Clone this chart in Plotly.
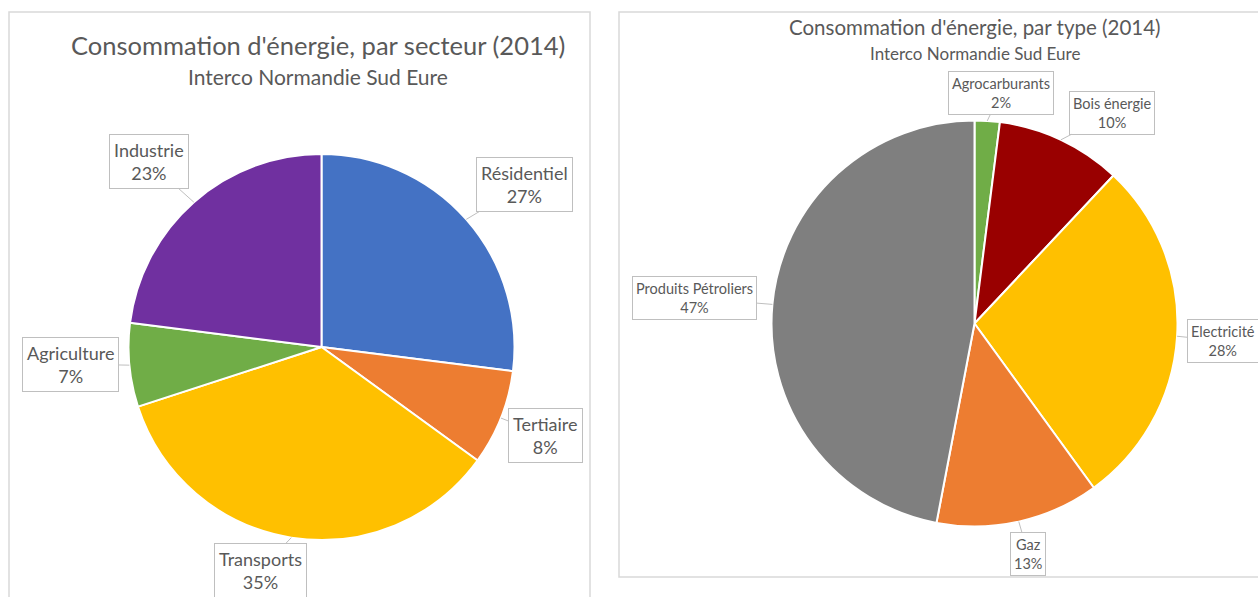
import math
import plotly.graph_objects as go

W, H = 1258, 597

# ---------------- data ----------------
sect_labels = ["Résidentiel", "Tertiaire", "Transports", "Agriculture", "Industrie"]
sect_values = [27, 8, 35, 7, 23]
sect_colors = ["#4472C4", "#ED7D31", "#FFC000", "#70AD47", "#7030A0"]

type_labels = ["Agrocarburants", "Bois énergie", "Electricité", "Gaz", "Produits Pétroliers"]
type_values = [2, 10, 28, 13, 47]
type_colors = ["#70AD47", "#990000", "#FFC000", "#ED7D31", "#7F7F7F"]

title_left = "Consommation d'énergie, par secteur (2014)"
title_right = "Consommation d'énergie, par type (2014)"
subtitle = "Interco Normandie Sud Eure"

# ---------------- layout / style ----------------
FONT = "Lato, 'Open Sans', sans-serif"
TXT = "#595959"

charts = [
    dict(labels=sect_labels, values=sect_values, colors=sect_colors,
         cx=321.5, cy=347, r=193, fsize=18, pad=4,
         lab_k=[1.345, 1.248, 1.198, 1.306, 1.314],
         lab_shift=[2.7, 0, 6.3, 1.5, -1.6]),
    dict(labels=type_labels, values=type_values, colors=type_colors,
         cx=974.5, cy=323.5, r=203, fsize=14.5, pad=3,
         lab_k=[1.145, 1.24, 1.225, 1.166, 1.383],
         lab_shift=[2.9, 8, 0.4, -0.5, -0.2]),
]


def px(x):
    return x / W


def py(y):
    return 1 - y / H


fig = go.Figure()
annotations = []

for c in charts:
    cx, cy, r = c["cx"], c["cy"], c["r"]
    fig.add_trace(go.Pie(
        labels=c["labels"], values=c["values"],
        marker=dict(colors=c["colors"], line=dict(color="white", width=2)),
        sort=False, direction="clockwise", rotation=0,
        textinfo="none", showlegend=False,
        domain=dict(x=[px(cx - r), px(cx + r)], y=[py(cy + r), py(cy - r)]),
    ))
    total = sum(c["values"])
    cum = 0
    for i, (lab, v) in enumerate(zip(c["labels"], c["values"])):
        mid = (cum + v / 2) / total * 360
        cum += v
        a = math.radians(mid)
        ex, ey = cx + r * math.sin(a), cy - r * math.cos(a)
        a2 = math.radians(mid + c["lab_shift"][i])
        lx = cx + r * c["lab_k"][i] * math.sin(a2)
        ly = cy - r * c["lab_k"][i] * math.cos(a2)
        pct = round(v / total * 100)
        annotations.append(dict(
            x=px(ex), y=py(ey), xref="paper", yref="paper",
            ax=lx - ex, ay=ly - ey, axref="pixel", ayref="pixel",
            text=f"{lab}<br>{pct}%", showarrow=True, arrowhead=0,
            arrowwidth=1, arrowcolor="#BFBFBF", standoff=0,
            font=dict(family=FONT, size=c["fsize"], color=TXT),
            bgcolor="white", bordercolor="#BFBFBF", borderwidth=1,
            borderpad=c["pad"], align="center",
        ))

# titles
titles = [
    (title_left, 317.5, 45, 25.5),
    (subtitle, 317.5, 77, 21),
    (title_right, 974.5, 27, 20.5),
    (subtitle, 974.5, 53, 17),
]
for t, x, y, s in titles:
    annotations.append(dict(
        x=px(x), y=py(y), xref="paper", yref="paper", text=t,
        showarrow=False, xanchor="center", yanchor="middle",
        font=dict(family=FONT, size=s, color=TXT),
    ))

shapes = [
    dict(type="rect", xref="paper", yref="paper",
         x0=px(9), x1=px(590), y0=-0.02, y1=py(12),
         line=dict(color="#D9D9D9", width=1.5), fillcolor="rgba(0,0,0,0)", layer="below"),
    dict(type="rect", xref="paper", yref="paper",
         x0=px(619), x1=1.02, y0=py(577), y1=py(12),
         line=dict(color="#D9D9D9", width=1.5), fillcolor="rgba(0,0,0,0)", layer="below"),
]

fig.update_layout(
    width=W, height=H, autosize=False,
    margin=dict(l=0, r=0, t=0, b=0),
    paper_bgcolor="white", plot_bgcolor="white",
    annotations=annotations, shapes=shapes,
    font=dict(family=FONT, color=TXT),
)

fig.write_html(
    "out.html",
    config={"displayModeBar": False},
    post_script="document.body.style.margin='0';document.body.style.overflow='hidden';",
)
